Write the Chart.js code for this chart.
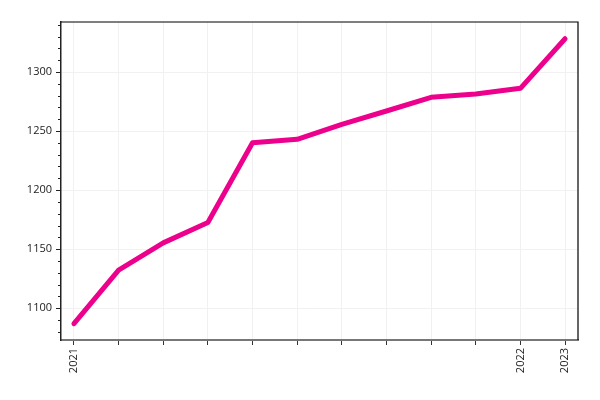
<!DOCTYPE html>
<html>
<head>
<meta charset="utf-8">
<script src="https://cdn.jsdelivr.net/npm/chart.js@4"></script>
<style>
html,body{margin:0;padding:0;background:#fff;}
canvas{display:block;}
</style>
</head>
<body>
<canvas id="c" width="600" height="400"></canvas>
<script>
const tickLabels = ['2021','','','','','','','','','','2022','2023'];
const values = [1086.8, 1132.2, 1155.3, 1172.6, 1240.1, 1243.0, 1255.7, 1267.0, 1278.6, 1281.4, 1286.2, 1328.2];
const yMin = 1073, yMax = 1342.4;

const points = values.map((v, i) => ({x: i, y: v}));

const minorTicks = {
  id: 'minorTicks',
  afterDraw(chart) {
    const ctx = chart.ctx, y = chart.scales.y, a = chart.chartArea;
    ctx.save();
    ctx.strokeStyle = '#222';
    ctx.lineWidth = 1;
    y.ticks.forEach(t => {
      if (t.value % 10 === 0 && t.value % 50 !== 0) {
        const py = Math.round(y.getPixelForValue(t.value)) + 0.5;
        ctx.beginPath();
        ctx.moveTo(a.left - 3, py);
        ctx.lineTo(a.left, py);
        ctx.stroke();
      }
    });
    ctx.strokeStyle = '#000';
    ctx.lineWidth = 1.2;
    ctx.beginPath();
    ctx.moveTo(a.left, a.top);
    ctx.lineTo(a.right, a.top);
    ctx.lineTo(a.right, a.bottom);
    ctx.stroke();
    ctx.restore();
  }
};

new Chart(document.getElementById('c'), {
  type: 'line',
  data: {
    datasets: [{
      data: points,
      borderColor: '#ec008c',
      borderWidth: 5,
      borderCapStyle: 'round',
      borderJoinStyle: 'round',
      pointRadius: 0,
      tension: 0,
      fill: false
    }]
  },
  options: {
    responsive: false,
    animation: false,
    devicePixelRatio: 1,
    layout: {padding: {top: 22, right: 22, left: 0, bottom: 0}},
    plugins: {legend: {display: false}, tooltip: {enabled: false}},
    scales: {
      x: {
        type: 'linear',
        min: -0.29,
        max: 11.29,
        afterFit(s) { s.height = 60; },
        border: {color: '#777', width: 2},
        grid: {color: '#f1f1f1', lineWidth: 1, tickLength: 5, tickColor: '#333'},
        ticks: {
          stepSize: 1,
          includeBounds: false,
          autoSkip: false,
          minRotation: 90,
          maxRotation: 90,
          padding: 3,
          color: '#222',
          font: {family: 'Open Sans', size: 11},
          callback: (v) => Number.isInteger(v) ? (tickLabels[v] ?? '') : ''
        }
      },
      y: {
        type: 'linear',
        min: yMin,
        max: yMax,
        afterFit(s) { s.width = 61; },
        border: {color: '#222', width: 1.5},
        grid: {
          color: (c) => (c.tick && c.tick.value % 50 === 0) ? '#f1f1f1' : 'rgba(0,0,0,0)',
          tickColor: (c) => (c.tick && c.tick.value % 50 === 0) ? '#222' : 'rgba(0,0,0,0)',
          tickLength: 5,
          lineWidth: 1
        },
        ticks: {
          stepSize: 10,
          includeBounds: false,
          autoSkip: false,
          padding: 4,
          color: '#222',
          font: {family: 'Open Sans', size: 11},
          callback: (v) => v % 50 === 0 ? String(v) : ''
        }
      }
    }
  },
  plugins: [minorTicks]
});
</script>
</body>
</html>
